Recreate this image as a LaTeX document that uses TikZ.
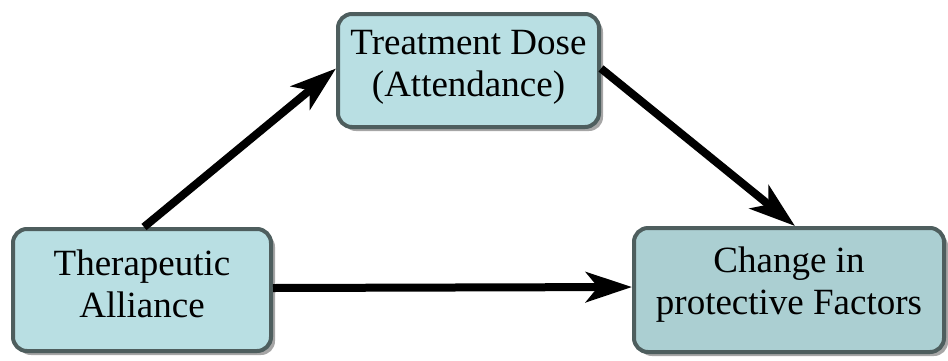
\documentclass[tikz,border=0pt]{standalone}
\usepackage{fontspec}
\newfontfamily\tnr{Liberation Serif}
\usetikzlibrary{arrows.meta,shadows}
\definecolor{boxfill}{HTML}{B9DFE3}
\definecolor{boxfilldark}{HTML}{ABCFD2}
\definecolor{boxline}{HTML}{4E5E5E}
\begin{document}
\begin{tikzpicture}[x=1pt,y=-1pt,
  box/.style={draw=boxline, line width=4pt, rounded corners=14pt, fill=boxfill,
    inner sep=0pt,
    drop shadow={shadow xshift=4pt, shadow yshift=-4pt, fill=black!35, opacity=1}},
  txt/.style={align=center, inner sep=0pt, font=\tnr\fontsize{37pt}{42pt}\selectfont},
  conn/.style={line width=8pt, -{Stealth[length=46pt,width=30pt,inset=12pt]}}]
\useasboundingbox (0,0) rectangle (948,360);
\node[box, minimum width=258pt, minimum height=122pt] (ta) at (142,290) {};
\node[box, minimum width=261pt, minimum height=113pt] (td) at (468.5,70.5) {};
\node[box, fill=boxfilldark, minimum width=310pt, minimum height=124pt] (cp) at (789,290) {};
\node[txt] (tat) at ([yshift=6pt]ta.center) {Therapeutic\\Alliance};
\node[txt] (tdt) at ([yshift=3pt]td.center) {Treatment Dose\\(Attendance)};
\node[txt] (cpt) at ([yshift=5pt]cp.center) {Change in\\protective Factors};
\draw[conn] ([xshift=2pt]ta.north) -- ([yshift=2pt]td.west);
\draw[conn] ([yshift=2pt]td.east) -- ([xshift=6pt]cp.north);
\draw[conn] ([yshift=2pt]ta.east) -- ([yshift=3pt]cp.west);
\end{tikzpicture}
\end{document}
